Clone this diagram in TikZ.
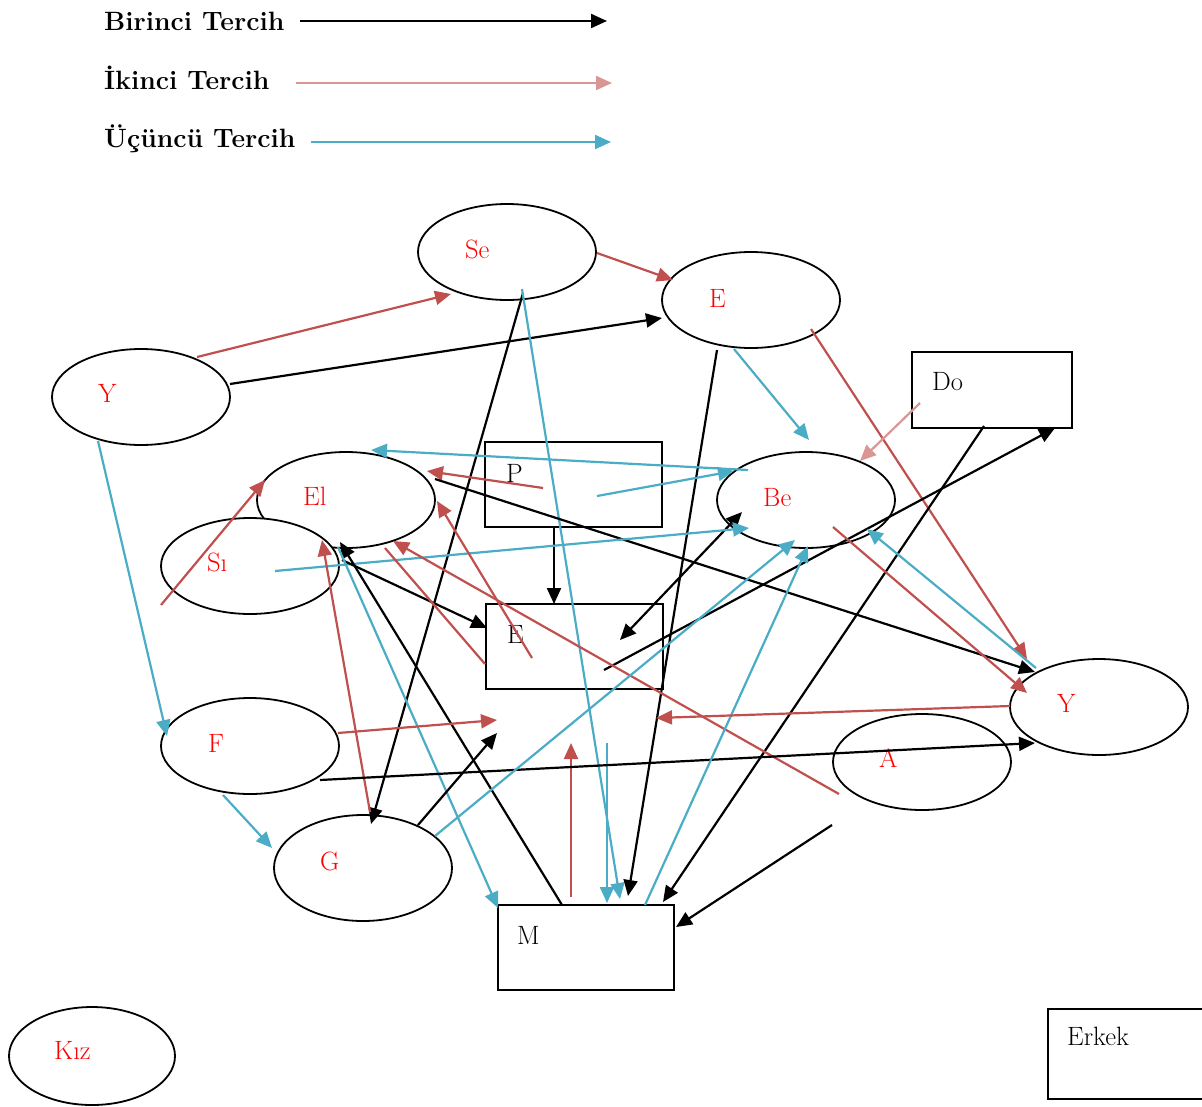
\documentclass[tikz,border=0pt]{standalone}
\usepackage{fontspec}
\usetikzlibrary{arrows.meta,shapes.geometric}
\definecolor{cred}{HTML}{C0504D}
\definecolor{cpink}{HTML}{D99694}
\definecolor{ccyan}{HTML}{4BACC6}
\begin{document}
\begin{tikzpicture}[x=1pt,y=-1pt,
  ell/.style={ellipse, draw, line width=1.8pt, fill=white, minimum width=178pt, minimum height=96pt, inner sep=0pt},
  boxn/.style={rectangle, draw, line width=1.8pt, inner sep=0pt},
  lab/.style={anchor=base west, inner sep=0pt, text=red, font=\fontsize{26.5}{30}\selectfont},
  blab/.style={lab, text=black},
  leg/.style={anchor=base west, inner sep=0pt, font=\fontsize{26.5}{30}\selectfont\bfseries},
  arr/.style={line width=2.2pt, -{Triangle[length=16pt,width=14pt]}},
  ab/.style={arr, color=black},
  ar/.style={arr, color=cred},
  ap/.style={arr, color=cpink},
  ac/.style={arr, color=ccyan}]
\useasboundingbox (0,0) rectangle (1202,1106);

% legend
\node[leg] (l1) at (104,30) {Birinci Tercih};
\node[leg] (l2) at (104,89) {İkinci Tercih};
\node[leg] (l3) at (104,147) {Üçüncü Tercih};
\coordinate (l1a) at (300,21); \coordinate (l1b) at (607,21);
\coordinate (l2a) at (296,83); \coordinate (l2b) at (612,83);
\coordinate (l3a) at (311,142); \coordinate (l3b) at (611,142);
\draw[ab] (l1a) -- (l1b);
\draw[ap] (l2a) -- (l2b);
\draw[ac] (l3a) -- (l3b);

% ellipses
\node[ell] (Se) at (507,252) {};
\node[ell] (Et) at (751,300) {};
\node[ell] (Yl) at (141,397) {};
\node[ell] (El) at (346,500) {};
\node[ell] (Si) at (250,566) {};
\node[ell] (Be) at (806,500) {};
\node[ell] (Yr) at (1099,707) {};
\node[ell] (A) at (922,762) {};
\node[ell] (F) at (250,746) {};
\node[ell, minimum height=106pt] (G) at (363,868) {};
\node[ell, minimum width=166pt, minimum height=98pt] (Kiz) at (92,1056) {};

% boxes
\node[boxn, minimum width=177pt, minimum height=85pt] (P) at (573.5,484.5) {};
\node[boxn, minimum width=177pt, minimum height=85pt] (Eb) at (574.5,646.5) {};
\node[boxn, minimum width=160pt, minimum height=76pt] (Do) at (992,390) {};
\node[boxn, minimum width=176pt, minimum height=85pt] (M) at (586,947.5) {};
\node[boxn, minimum width=164pt, minimum height=90pt] (Erk) at (1130,1054) {};

% labels
\node[lab] (tSe) at (465,258) {Se};
\node[lab] (tEt) at (709,307) {E};
\node[lab] (tYl) at (98,402) {Y};
\node[lab] (tEl) at (303,505) {El};
\node[lab] (tSi) at (207,571) {Sı};
\node[lab] (tBe) at (763,506) {Be};
\node[lab] (tYr) at (1057,712) {Y};
\node[lab] (tA) at (879,767) {A};
\node[lab] (tF) at (208,752) {F};
\node[lab] (tG) at (320,870) {G};
\node[lab] (tKiz) at (54,1059) {Kız};
\node[blab] (tP) at (506,482) {P};
\node[blab] (tEb) at (507,643) {E};
\node[blab] (tDo) at (932,390) {Do};
\node[blab] (tM) at (517,944) {M};
\node[blab] (tErk) at (1067,1045) {Erkek};

% connector end points
\coordinate (a1) at (197,357);  \coordinate (b1) at (451,294);
\coordinate (a2) at (230,384);  \coordinate (b2) at (662,318);
\coordinate (a3) at (597,253);  \coordinate (b3) at (673,280);
\coordinate (a4) at (98,441);   \coordinate (b4) at (167,736);
\coordinate (a5) at (523,293);  \coordinate (b5) at (371,824);
\coordinate (a6) at (522,289);  \coordinate (b6) at (620,899);
\coordinate (a7) at (607,743);  \coordinate (b7) at (607,903);
\coordinate (a8) at (571,897);  \coordinate (b8) at (571,743);
\coordinate (a9) at (717,350);  \coordinate (b9) at (628,896);
\coordinate (a10) at (734,349); \coordinate (b10) at (809,440);
\coordinate (a11) at (811,329); \coordinate (b11) at (1027,659);
\coordinate (a12) at (920,403); \coordinate (b12) at (860,461);
\coordinate (a13) at (984,426); \coordinate (b13) at (663,902);
\coordinate (a14) at (604,670); \coordinate (b14) at (1055,428);
\coordinate (a15) at (748,470); \coordinate (b15) at (371,450);
\coordinate (a16) at (597,496); \coordinate (b16) at (734,471);
\coordinate (a17) at (543,488); \coordinate (b17) at (427,471);
\coordinate (a18) at (435,479); \coordinate (b18) at (1035,672);
\coordinate (a19) at (554,527); \coordinate (b19) at (554,604);
\coordinate (a20) at (620,640); \coordinate (b20) at (742,512);
\coordinate (a21) at (275,571); \coordinate (b21) at (749,528);
\coordinate (a22) at (161,605); \coordinate (b22) at (265,480);
\coordinate (a23) at (562,905); \coordinate (b23) at (340,542);
\coordinate (a24) at (342,560); \coordinate (b24) at (487,628);
\coordinate (a25) at (385,548); \coordinate (b25) at (485,664);
\coordinate (a26) at (532,658); \coordinate (b26) at (437,501);
\coordinate (a27) at (839,794); \coordinate (b27) at (393,541);
\coordinate (a28) at (370,812); \coordinate (b28) at (322,540);
\coordinate (a29) at (338,547); \coordinate (b29) at (498,908);
\coordinate (a30) at (338,733); \coordinate (b30) at (497,720);
\coordinate (a31) at (320,780); \coordinate (b31) at (1035,743);
\coordinate (a32) at (223,795); \coordinate (b32) at (272,848);
\coordinate (a33) at (418,825); \coordinate (b33) at (497,733);
\coordinate (a34) at (435,836); \coordinate (b34) at (795,540);
\coordinate (a35) at (645,905); \coordinate (b35) at (808,546);
\coordinate (a36) at (1010,706);\coordinate (b36) at (656,718);
\coordinate (a37) at (832,825); \coordinate (b37) at (676,927);
\coordinate (a38) at (1036,668);\coordinate (b38) at (867,529);
\coordinate (a39) at (833,527); \coordinate (b39) at (1027,693);

% connectors
\draw[ar] (a1) -- (b1);
\draw[ab] (a2) -- (b2);
\draw[ar] (a3) -- (b3);
\draw[ac] (a4) -- (b4);
\draw[ab] (a5) -- (b5);
\draw[ac] (a6) -- (b6);
\draw[ac] (a7) -- (b7);
\draw[ar] (a8) -- (b8);
\draw[ab] (a9) -- (b9);
\draw[ac] (a10) -- (b10);
\draw[ar] (a11) -- (b11);
\draw[ap] (a12) -- (b12);
\draw[ab] (a13) -- (b13);
\draw[ab] (a14) -- (b14);
\draw[ac] (a15) -- (b15);
\draw[ac] (a16) -- (b16);
\draw[ar] (a17) -- (b17);
\draw[ab] (a18) -- (b18);
\draw[ab] (a19) -- (b19);
\draw[ab, {Triangle[length=16pt,width=14pt]}-{Triangle[length=16pt,width=14pt]}] (a20) -- (b20);
\draw[ac] (a21) -- (b21);
\draw[ar] (a22) -- (b22);
\draw[ab] (a23) -- (b23);
\draw[ab] (a24) -- (b24);
\draw[line width=2.2pt, cred] (a25) -- (b25);
\draw[ar] (a26) -- (b26);
\draw[ar] (a27) -- (b27);
\draw[ar] (a28) -- (b28);
\draw[ac] (a29) -- (b29);
\draw[ar] (a30) -- (b30);
\draw[ab] (a31) -- (b31);
\draw[ac] (a32) -- (b32);
\draw[ab] (a33) -- (b33);
\draw[ac] (a34) -- (b34);
\draw[ac] (a35) -- (b35);
\draw[ar] (a36) -- (b36);
\draw[ab] (a37) -- (b37);
\draw[ac] (a38) -- (b38);
\draw[ar] (a39) -- (b39);
\end{tikzpicture}
\end{document}
